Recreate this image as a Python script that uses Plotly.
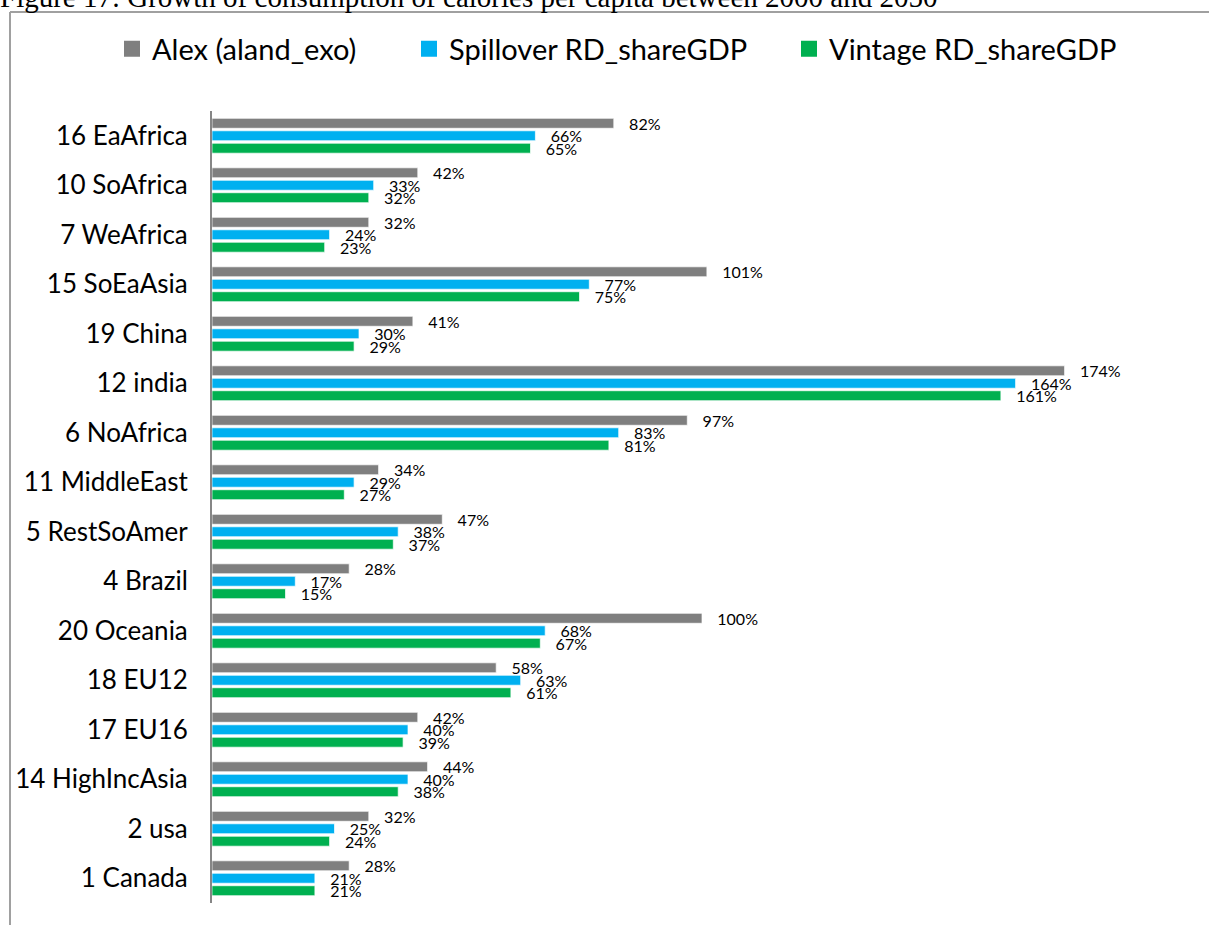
import plotly.graph_objects as go

regions = ["16 EaAfrica", "10 SoAfrica", "7 WeAfrica", "15 SoEaAsia", "19 China",
           "12 india", "6 NoAfrica", "11 MiddleEast", "5 RestSoAmer", "4 Brazil",
           "20 Oceania", "18 EU12", "17 EU16", "14 HighIncAsia", "2 usa", "1 Canada"]
alex = [0.82, 0.42, 0.32, 1.01, 0.41, 1.74, 0.97, 0.34, 0.47, 0.28,
        1.00, 0.58, 0.42, 0.44, 0.32, 0.28]
spillover = [0.66, 0.33, 0.24, 0.77, 0.30, 1.64, 0.83, 0.29, 0.38, 0.17,
             0.68, 0.63, 0.40, 0.40, 0.25, 0.21]
vintage = [0.65, 0.32, 0.23, 0.75, 0.29, 1.61, 0.81, 0.27, 0.37, 0.15,
           0.67, 0.61, 0.39, 0.38, 0.24, 0.21]

series_names = ["Alex (aland_exo)", "Spillover RD_shareGDP", "Vintage RD_shareGDP"]
series_values = [alex, spillover, vintage]
series_colors = ["#7f7f7f", "#00b0f0", "#00b050"]

W, H = 1209, 925
L, R, T, B = 212, 17, 111, 22
pw, ph = W - L - R, H - T - B

def px_x(p):
    return (p - L) / pw

def px_y(p):
    return (H - B - p) / ph

legend_ids = ["legend", "legend2", "legend3"]
legend_left_px = [112, 409, 789]

fig = go.Figure()
for name, vals, col in zip(series_names, series_values, series_colors):
    fig.add_trace(go.Bar(
        name=name, y=regions, x=vals, orientation="h", showlegend=False,
        marker=dict(color=col, line=dict(color="rgba(255,255,255,0.7)", width=1)),
        texttemplate="\u00a0\u00a0\u00a0%{x:.0%}",
        textposition="outside", constraintext="none", cliponaxis=False,
        textfont=dict(family="Lato", size=16, color="#000000"),
    ))
for name, col, lid in zip(series_names, series_colors, legend_ids):
    fig.add_trace(go.Scatter(
        name=name, x=[None], y=[None], mode="markers",
        marker=dict(symbol="square", size=17, color=col),
        showlegend=True, hoverinfo="skip", legend=lid,
    ))

legend_style = dict(orientation="h", xref="container", yref="container",
                    xanchor="left", y=1 - 49 / H, yanchor="middle",
                    bgcolor="rgba(0,0,0,0)", borderwidth=0,
                    font=dict(family="Lato", size=29, color="#000000"))

fig.update_layout(
    width=W, height=H,
    margin=dict(l=L, r=R, t=T, b=B, autoexpand=False),
    paper_bgcolor="white", plot_bgcolor="white",
    barmode="group", bargap=0.245, bargroupgap=0.2,
    font=dict(family="Lato", color="#000000"),
    title=dict(
        text="Figure 17: Growth of consumption of calories per capita between 2000 and 2050",
        xref="container", yref="container", x=0, xanchor="left",
        y=1 - 7 / H, yanchor="bottom",
        font=dict(family="Liberation Serif", size=29, color="#000000"),
    ),
    legend=dict(legend_style, x=legend_left_px[0] / W),
    legend2=dict(legend_style, x=legend_left_px[1] / W),
    legend3=dict(legend_style, x=legend_left_px[2] / W),
    xaxis=dict(range=[0, 2.0], visible=False, showgrid=False, zeroline=False),
    yaxis=dict(autorange="reversed", showline=True, linecolor="#868686", linewidth=2,
               ticks="", ticklabelstandoff=17, showgrid=False,
               tickfont=dict(family="Lato", size=26, color="#000000")),
    shapes=[
        dict(type="line", xref="paper", yref="paper", x0=px_x(10), x1=px_x(W + 5),
             y0=px_y(12), y1=px_y(12), line=dict(color="#a0a0a0", width=2),
             layer="above"),
        dict(type="line", xref="paper", yref="paper", x0=px_x(10), x1=px_x(10),
             y0=px_y(12), y1=px_y(H + 5), line=dict(color="#a0a0a0", width=2),
             layer="above"),
    ],
)

fig.write_html("out.html")
